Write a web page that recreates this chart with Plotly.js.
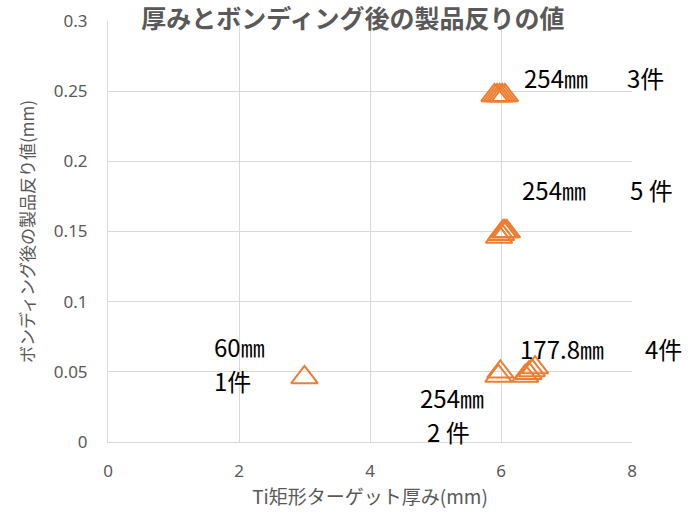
<!DOCTYPE html>
<html>
<head>
<meta charset="utf-8">
<script src="https://cdn.plot.ly/plotly-3.0.1.min.js"></script>
<style>html,body{margin:0;padding:0;background:#fff;}#chart{width:696px;height:515px;}</style>
</head>
<body>
<div id="chart"></div>
<script>
// Groups of points (Ti target thickness mm, warpage after bonding mm)
const g60_x = [3.0];
const g60_y = [0.046];
const g254_2_x = [5.96, 5.99];
const g254_2_y = [0.047, 0.050];
const g1778_4_x = [6.37, 6.42, 6.47, 6.52];
const g1778_4_y = [0.047, 0.049, 0.051, 0.053];
const g254_5_x = [5.97, 6.00, 6.03, 6.06, 6.09];
const g254_5_y = [0.146, 0.148, 0.150, 0.150, 0.150];
const g254_3_x = [5.90, 5.94, 5.98, 6.02, 6.06];
const g254_3_y = [0.247, 0.247, 0.247, 0.247, 0.247];

const xVals = [].concat(g60_x, g254_2_x, g1778_4_x, g254_5_x, g254_3_x);
const yVals = [].concat(g60_y, g254_2_y, g1778_4_y, g254_5_y, g254_3_y);

const titleText = '厚みとボンディング後の製品反りの値';
const xTitle = 'Ti矩形ターゲット厚み(mm)';
const yTitle = 'ボンディング後の製品反り値(mm)';

// label texts and their anchor positions (fractions of the plot area)
const labelTexts = ['254㎜', '3件', '254㎜', '5 件', '177.8㎜', '4件', '254㎜', '2 件', '60㎜', '1件'];
const labelX = [0.790, 0.986, 0.786, 0.992, 0.782, 1.021, 0.592, 0.605, 0.198, 0.198];
const labelY = [0.866, 0.866, 0.599, 0.599, 0.223, 0.223, 0.105, 0.024, 0.226, 0.147];

const grey = '#595959';
const jp = '"Noto Sans CJK JP", "Noto Sans", sans-serif';

const trace = {
  type: 'scatter',
  mode: 'markers',
  x: xVals,
  y: yVals,
  marker: {symbol: 'triangle-up-open', size: 23, color: '#ED7D31', line: {width: 2, color: '#ED7D31'}},
  cliponaxis: false,
  showlegend: false,
  hoverinfo: 'x+y'
};

const annotations = labelTexts.map((t, i) => ({
  text: t, x: labelX[i], y: labelY[i], xref: 'paper', yref: 'paper',
  xanchor: 'left', yanchor: 'middle', showarrow: false,
  font: {family: jp, size: 24, color: '#000000'}
}));

const layout = {
  width: 696, height: 515,
  margin: {l: 108, r: 64, t: 21, b: 73},
  paper_bgcolor: '#ffffff', plot_bgcolor: '#ffffff',
  font: {family: jp, color: grey},
  title: {text: '<b>' + titleText + '</b>', font: {family: jp, size: 25, color: grey},
          x: 0.507, xanchor: 'center', xref: 'container', y: 0.962, yanchor: 'middle'},
  xaxis: {
    range: [0, 8], dtick: 2, tick0: 0,
    showgrid: true, gridcolor: '#D9D9D9', gridwidth: 1,
    zeroline: false, showline: true, linecolor: '#D9D9D9',
    ticks: '', ticklabelstandoff: 14,
    tickfont: {family: '"Noto Sans", sans-serif', size: 17, color: grey},
    title: {text: xTitle, font: {family: jp, size: 19, color: grey}, standoff: 8}
  },
  yaxis: {
    range: [0, 0.3], dtick: 0.05, tick0: 0,
    showgrid: true, gridcolor: '#D9D9D9', gridwidth: 1,
    zeroline: false, showline: true, linecolor: '#D9D9D9',
    ticks: '', ticklabelstandoff: 16,
    tickfont: {family: '"Noto Sans", sans-serif', size: 17, color: grey},
    title: {text: yTitle, font: {family: jp, size: 17, color: grey}, standoff: 14}
  },
  annotations: annotations
};

Plotly.newPlot('chart', [trace], layout, {displayModeBar: false, staticPlot: true});
</script>
</body>
</html>
